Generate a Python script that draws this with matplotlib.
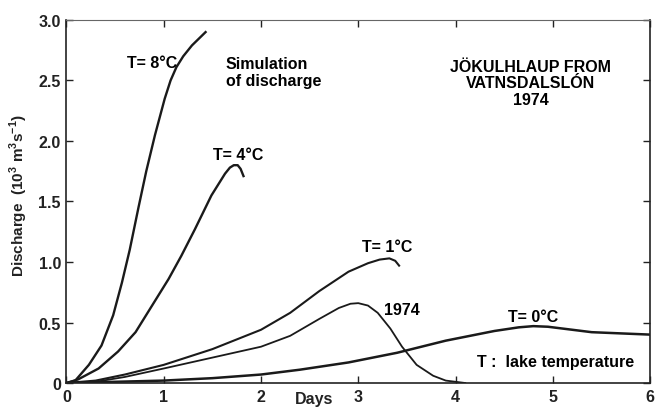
import matplotlib
matplotlib.use("Agg")
import matplotlib.pyplot as plt

plt.rcParams['font.family'] = ['Liberation Sans', 'DejaVu Sans']
plt.rcParams['font.weight'] = 'bold'
plt.rcParams['axes.labelweight'] = 'bold'
plt.rcParams['mathtext.fontset'] = 'custom'
plt.rcParams['mathtext.rm'] = 'Liberation Sans:bold'
plt.rcParams['mathtext.bf'] = 'Liberation Sans:bold'

# simulated discharge (10^3 m^3/s) against days
t8_days = [0, 0.09, 0.23, 0.36, 0.48, 0.57, 0.65, 0.74, 0.82, 0.91, 1.01, 1.07, 1.13, 1.20, 1.29, 1.43]
t8_q = [0, 0.02, 0.15, 0.31, 0.56, 0.83, 1.10, 1.45, 1.75, 2.05, 2.35, 2.50, 2.61, 2.70, 2.79, 2.90]

t4_days = [0, 0.12, 0.33, 0.53, 0.71, 0.88, 1.05, 1.18, 1.32, 1.49, 1.63, 1.68, 1.72, 1.76, 1.79, 1.82]
t4_q = [0, 0.03, 0.12, 0.26, 0.42, 0.64, 0.86, 1.05, 1.27, 1.55, 1.73, 1.78, 1.80, 1.80, 1.77, 1.71]

t1_days = [0, 0.3, 0.6, 1.0, 1.5, 2.0, 2.3, 2.6, 2.9, 3.1, 3.22, 3.32, 3.38, 3.42]
t1_q = [0, 0.02, 0.07, 0.15, 0.28, 0.44, 0.58, 0.76, 0.92, 0.99, 1.02, 1.03, 1.01, 0.97]

obs_days = [0, 0.3, 0.6, 1.0, 1.5, 2.0, 2.3, 2.6, 2.8, 2.92, 3.0, 3.1, 3.2, 3.33, 3.45, 3.6, 3.77, 3.9, 4.1]
obs_q = [0, 0.01, 0.05, 0.12, 0.21, 0.30, 0.39, 0.53, 0.62, 0.655, 0.66, 0.64, 0.58, 0.45, 0.30, 0.15, 0.06, 0.02, 0.0]

t0_days = [0, 0.5, 1.0, 1.5, 2.0, 2.4, 2.9, 3.4, 3.9, 4.4, 4.65, 4.8, 4.95, 5.1, 5.4, 6.0]
t0_q = [0, 0.01, 0.02, 0.04, 0.07, 0.11, 0.17, 0.25, 0.35, 0.43, 0.46, 0.47, 0.465, 0.45, 0.42, 0.40]

x_ticks = [0, 1, 2, 3, 4, 5, 6]
y_ticks = [0, 0.5, 1.0, 1.5, 2.0, 2.5, 3.0]
y_ticklabels = ['0', '0.5', '1.0', '1.5', '2.0', '2.5', '3.0']

fig = plt.figure(figsize=(6.61, 4.10), dpi=100)
ax = fig.add_axes([0.1006, 0.0634, 0.8828, 0.8854])

col = '#1a1a1a'
ax.plot(t8_days, t8_q, color=col, lw=1.7)
ax.plot(t4_days, t4_q, color=col, lw=1.7)
ax.plot(t1_days, t1_q, color=col, lw=1.5)
ax.plot(obs_days, obs_q, color=col, lw=1.3)
ax.plot(t0_days, t0_q, color=col, lw=1.8)

ax.set_xlim(0, 6)
ax.set_ylim(0, 3.0)
ax.set_xticks(x_ticks)
ax.set_xticklabels([str(v) for v in x_ticks])
ax.set_yticks(y_ticks)
ax.set_yticklabels(y_ticklabels)
ax.tick_params(direction='in', length=5, width=1, labelsize=11.5, colors='#222222',
               top=True, right=True, pad=4)
for side in ['left', 'bottom', 'right']:
    ax.spines[side].set_linewidth(1.2)
    ax.spines[side].set_color('#222222')
ax.spines['top'].set_linewidth(0.8)
ax.spines['top'].set_color('#666666')

ax.set_ylabel('Discharge  (10$^3$ m$^3$s$^{-1}$)', fontsize=11, color='#222222',
              fontweight='bold')
ax.yaxis.set_label_coords(-0.062, 0.52)
ax.text(2.55, -0.022, 'Days', ha='center', va='top', fontsize=11.5, color='#222222',
        transform=ax.get_xaxis_transform())

fs = 11.5
ax.text(0.88, 2.65, 'T= 8°C', ha='center', va='center', fontsize=fs)
ax.text(1.64, 2.57, 'Simulation\nof discharge', ha='left', va='center', fontsize=fs,
        linespacing=1.1)
ax.text(1.77, 1.89, 'T= 4°C', ha='center', va='center', fontsize=fs)
ax.text(4.77, 2.48, 'JÖKULHLAUP FROM\nVATNSDALSLÓN\n1974', ha='center', va='center',
        fontsize=fs, linespacing=1.1)
ax.text(3.3, 1.13, 'T= 1°C', ha='center', va='center', fontsize=fs)
ax.text(3.45, 0.61, '1974', ha='center', va='center', fontsize=fs)
ax.text(4.8, 0.55, 'T= 0°C', ha='center', va='center', fontsize=fs)
ax.text(5.03, 0.18, 'T :  lake temperature', ha='center', va='center', fontsize=fs)

fig.savefig('out.png', dpi=100)
